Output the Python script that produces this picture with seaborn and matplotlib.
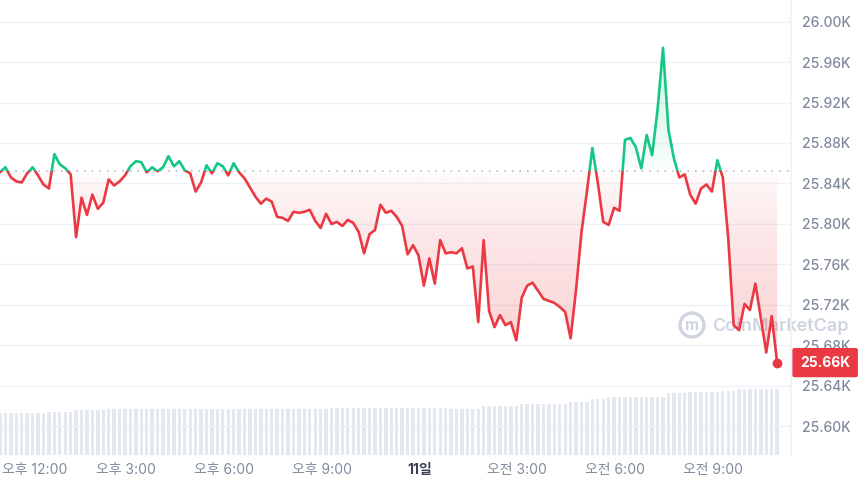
import numpy as np
import pandas as pd
import seaborn as sns
import matplotlib.pyplot as plt
import matplotlib.transforms as mtransforms
from matplotlib.colors import to_rgb
from matplotlib.patches import Rectangle, Circle

# BTC price (USD), one value every 10 minutes from 11:08 on the 10th to 10:58 on the 11th
price = [
    25851, 25856, 25846, 25842, 25841, 25850, 25856, 25848, 25839, 25835, 25869, 25859,
    25855, 25849, 25787, 25826, 25809, 25829, 25815, 25821, 25844, 25838, 25842, 25848,
    25857, 25862, 25861, 25851, 25856, 25852, 25856, 25867, 25857, 25862, 25853, 25850,
    25832, 25841, 25858, 25850, 25860, 25857, 25848, 25860, 25851, 25845, 25836, 25827,
    25820, 25825, 25822, 25807, 25806, 25803, 25812, 25811, 25812, 25814, 25803, 25796,
    25810, 25800, 25802, 25798, 25804, 25801, 25792, 25771, 25790, 25794, 25819, 25811,
    25813, 25807, 25798, 25770, 25779, 25769, 25739, 25766, 25741, 25784, 25771, 25772,
    25771, 25776, 25756, 25758, 25703, 25784, 25714, 25698, 25710, 25700, 25703, 25685,
    25727, 25739, 25742, 25734, 25726, 25724, 25722, 25718, 25713, 25687, 25735, 25792,
    25832, 25875, 25841, 25802, 25799, 25816, 25813, 25883, 25885, 25876, 25855, 25888,
    25868, 25913, 25974, 25893, 25865, 25846, 25849, 25829, 25820, 25835, 25839, 25832,
    25863, 25846, 25786, 25700, 25695, 25721, 25715, 25741, 25707, 25673, 25709, 25663,
]

# 24h volume (billion USD) for the same timestamps
volume = [
    13.9, 13.9, 13.9, 13.9, 13.9, 13.9, 13.9, 13.9, 13.9, 14.3, 14.3, 14.3,
    14.3, 14.3, 14.8, 14.8, 14.8, 14.8, 14.8, 14.8, 15.2, 15.2, 15.2, 15.2,
    15.2, 15.2, 15.2, 15.2, 15.2, 15.2, 15.2, 15.2, 15.2, 15.2, 15.2, 15.2,
    15.2, 15.2, 15.2, 15.2, 15.2, 15.2, 15.2, 15.2, 15.2, 15.2, 15.2, 15.2,
    15.2, 15.2, 15.2, 15.1, 15.1, 15.1, 15.1, 15.1, 15.1, 15.1, 15.1, 15.1,
    15.1, 15.5, 15.5, 15.5, 15.5, 15.5, 15.5, 15.5, 15.5, 15.5, 15.5, 15.5,
    15.5, 15.5, 15.4, 15.4, 15.4, 15.4, 15.4, 15.4, 15.4, 15.4, 15.4, 15.3,
    15.3, 15.3, 15.3, 15.3, 15.3, 16.2, 16.2, 16.2, 16.2, 16.2, 16.2, 16.2,
    16.7, 16.7, 16.7, 16.7, 16.7, 16.7, 16.7, 16.7, 16.7, 17.6, 17.6, 17.6,
    17.6, 18.4, 18.4, 18.4, 19.2, 19.2, 19.2, 19.2, 19.2, 19.2, 19.2, 19.2,
    19.2, 19.2, 19.2, 20.3, 20.3, 20.3, 20.3, 20.7, 20.7, 20.7, 20.7, 20.7,
    20.7, 21.2, 21.2, 21.2, 21.9, 21.9, 21.9, 21.9, 21.9, 21.9, 21.9, 21.9,
]

baseline = 25852          # price 24h ago (dotted line)
start_hour = -52 / 60     # 11:08, in hours relative to 12:00 of the 10th
step_hour = 10 / 60

tick_hours = [0, 3, 6, 9, 12, 15, 18, 21]
tick_labels = ["오후 12:00", "오후 3:00", "오후 6:00", "오후 9:00", "11일", "오전 3:00", "오전 6:00", "오전 9:00"]
price_ticks = [25600, 25640, 25680, 25720, 25760, 25800, 25840, 25880, 25920, 25960, 26000]

GREEN = "#16c784"
RED = "#ea3943"
GREY = "#808a9d"
MARK = "#cfd5df"

sns.set_theme(style="white")
plt.rcParams["font.family"] = ["Inter", "Noto Sans CJK KR", "DejaVu Sans"]

df = pd.DataFrame({
    "hour": start_hour + step_hour * np.arange(len(price)),
    "price": price,
    "volume": volume,
})

fig = plt.figure(figsize=(8.6, 4.87), dpi=100)
ax = fig.add_axes([0, 32 / 487, 791 / 860, 455 / 487])
ax_vol = ax.twinx()
ax_vol.set_zorder(0)
ax.set_zorder(1)
ax.patch.set_visible(False)

ylo, yhi = 25571.7, 26021.3
xlo, xhi = start_hour, 23.392

# volume bars
ax_vol.bar(df["hour"], df["volume"], width=step_hour * 0.62, color="#e4e8ef", linewidth=0)
ax_vol.set_ylim(0, 150)
ax_vol.set_yticks([])
for s in ax_vol.spines.values():
    s.set_visible(False)

# gradient fill between price and baseline
fill = ax.fill_between(df["hour"], df["price"], baseline, facecolor="none", edgecolor="none")
ys = np.linspace(ylo, yhi, 600)
alpha = 0.23 * np.clip(np.abs(ys - baseline) / 190, 0, 1.3) ** 0.6
cols = np.where(ys[:, None] < baseline, np.array(to_rgb(RED)), np.array(to_rgb(GREEN)))
rgba = np.zeros((len(ys), 1, 4))
rgba[:, 0, :3] = cols
rgba[:, 0, 3] = alpha
im = ax.imshow(rgba, extent=[df["hour"].iloc[0], df["hour"].iloc[-1], ylo, yhi],
               origin="lower", aspect="auto", zorder=1, interpolation="bilinear")
im.set_clip_path(fill.get_paths()[0], ax.transData)

# dotted baseline
ax.axhline(baseline, color="#a6b0c3", linestyle=(0, (1, 4)), linewidth=1.1, zorder=2)

# price line: red below the baseline, green above
blend = mtransforms.blended_transform_factory(ax.transAxes, ax.transData)
sns.lineplot(data=df, x="hour", y="price", ax=ax, color=RED, linewidth=1.9, zorder=3)
ax.lines[-1].set_clip_path(Rectangle((0, baseline - 1e5), 1, 1e5, transform=blend))
sns.lineplot(data=df, x="hour", y="price", ax=ax, color=GREEN, linewidth=1.9, zorder=3)
ax.lines[-1].set_clip_path(Rectangle((0, baseline), 1, 1e5, transform=blend))

# last price marker and tag
ax.scatter(df["hour"].iloc[-1], price[-1], s=50, color=RED, zorder=5, linewidth=0)
ax.text(1.0114, price[-1], f"{price[-1] / 1000:.2f}K", transform=blend, ha="left", va="center",
        color="white", fontsize=10, fontweight="bold", zorder=10, clip_on=False,
        bbox=dict(boxstyle="round,pad=0.55,rounding_size=0.15", fc=RED, ec="none"))

# watermark
fig.text(712 / 860, 1 - 326 / 487, "CoinMarketCap", fontsize=13, fontweight="semibold",
         color=MARK, ha="left", va="center", zorder=0.5)
fig.add_artist(Circle((6.92, 4.87 - 3.25), 0.12, transform=fig.dpi_scale_trans,
                      fill=False, ec=MARK, lw=2.4, zorder=0.5))
fig.text(692 / 860, 1 - 326 / 487, "m", fontsize=11, fontweight="bold", color=MARK,
         ha="center", va="center", zorder=0.5)

# axes styling
ax.set_xlim(xlo, xhi)
ax.set_ylim(ylo, yhi)
ax.set_xlabel("")
ax.set_ylabel("")
ax.yaxis.tick_right()
ax.set_yticks(price_ticks)
ax.set_yticklabels([f"{v / 1000:.2f}K" for v in price_ticks])
ax.tick_params(axis="y", length=0, pad=8, labelsize=10, labelcolor=GREY)
for t in ax.get_yticklabels():
    t.set_fontweight("medium")
ax.set_xticks(tick_hours)
ax.set_xticklabels(tick_labels)
ax.tick_params(axis="x", length=0, pad=6, labelsize=10, labelcolor=GREY)
xl = ax.get_xticklabels()
xl[4].set_fontweight("bold")
xl[4].set_color("#3a4152")
xl[0].set_transform(xl[0].get_transform() + mtransforms.ScaledTranslation(0.06, 0, fig.dpi_scale_trans))
ax.grid(axis="y", color="#eff2f5", linewidth=1)
ax.grid(axis="x", visible=False)
for name, s in ax.spines.items():
    s.set_visible(name == "right")
ax.spines["right"].set_color("#eff2f5")

fig.savefig("out.png", dpi=100, facecolor="white")
